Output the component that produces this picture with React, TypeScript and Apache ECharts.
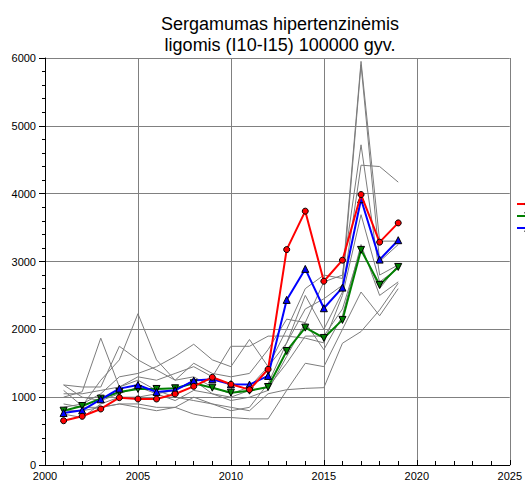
import React, { useEffect, useRef } from "react";
import * as echarts from "echarts";

const years = [2001, 2002, 2003, 2004, 2005, 2006, 2007, 2008, 2009, 2010, 2011, 2012, 2013, 2014, 2015, 2016, 2017, 2018, 2019];

const redValues = [653, 718, 826, 993, 973, 973, 1047, 1160, 1293, 1190, 1111, 1411, 3176, 3742, 2709, 3019, 3987, 3285, 3569];
const greenValues = [801, 870, 978, 1077, 1121, 1121, 1131, 1205, 1140, 1066, 1096, 1150, 1681, 2025, 1873, 2139, 3171, 2655, 2920];
const blueValues = [767, 806, 969, 1126, 1180, 1077, 1101, 1244, 1264, 1190, 1185, 1313, 2434, 2891, 2311, 2615, 3918, 3028, 3314];

const grayValues: number[][] = [
  [1100, 870, 1250, 1550, 2230, 1550, 1250, 1300, 1150, 1050, 1150, 1450, 2000, 2600, 2800, 2750, 5950, 3300, 3300],
  [1000, 1080, 1870, 1150, 1250, 1100, 1000, 950, 900, 800, 850, 1200, 1800, 2300, 2450, 2650, 5900, 3000, 3250],
  [1180, 1150, 1150, 1750, 1550, 1400, 1250, 1500, 1350, 1300, 1350, 1700, 2150, 2100, 2700, 2800, 4720, 2800, 2950],
  [850, 900, 1050, 1300, 1350, 1450, 1600, 1780, 1550, 1450, 1850, 1450, 1800, 2500, 2000, 2550, 4420, 4400, 4170],
  [1050, 1050, 1100, 1150, 1300, 1250, 1350, 1450, 1300, 1750, 1750, 1900, 1900, 1870, 1800, 2500, 3690, 2700, 2900],
  [750, 700, 900, 1000, 1000, 1050, 1100, 1250, 1050, 950, 1000, 1100, 1600, 2100, 1700, 2200, 3250, 2500, 2700],
  [900, 850, 850, 900, 900, 850, 850, 1000, 900, 850, 800, 1050, 1110, 1130, 1140, 1795, 1967, 2286, 2680],
  [800, 800, 850, 900, 850, 800, 850, 750, 700, 700, 680, 680, 1100, 1500, 1450, 2000, 2550, 2200, 2600],
  [1180, 1000, 950, 1050, 1150, 1050, 950, 1100, 1050, 1000, 1100, 1150, 1500, 1900, 1900, 2300, 3200, 2600, 2950],
];

const seriesNames = ["Savivaldybė", "Apskritis", "Lietuva"];
const titleText = "Sergamumas hipertenzinėmis\nligomis (I10-I15) 100000 gyv.";

const pairs = (vals: number[]) => years.map((y, i) => [y, vals[i]]);

export default function App() {
  const ref = useRef<HTMLDivElement>(null);
  useEffect(() => {
    if (!ref.current) return;
    const chart = echarts.init(ref.current, null, { renderer: "svg" });
    const font = "Liberation Sans, Arial, sans-serif";
    const grays = grayValues.map((vals, i) => ({
      name: "g" + i,
      type: "line",
      data: pairs(vals),
      symbol: "none",
      lineStyle: { color: "#7c7c7c", width: 1 },
      z: 1,
      silent: true,
    }));
    chart.setOption({
      animation: false,
      title: {
        text: titleText,
        left: 275,
        top: 8,
        textAlign: "center",
        textStyle: { fontFamily: font, fontSize: 18, fontWeight: "normal", color: "#000", lineHeight: 21 },
      },
      legend: {
        orient: "vertical",
        left: 516,
        top: 199,
        padding: 0,
        itemWidth: 23,
        itemHeight: 7,
        itemGap: 2,
        data: seriesNames,
        textStyle: { fontFamily: font, fontSize: 9, lineHeight: 10, color: "#000" },
      },
      grid: { left: 45, right: 10, top: 58, bottom: 18, containLabel: false },
      xAxis: {
        type: "value",
        min: 2000,
        max: 2025,
        interval: 5,
        axisLine: { show: true, onZero: false, lineStyle: { color: "#000", width: 1 } },
        axisTick: { show: true, inside: true, length: 5, lineStyle: { color: "#000" } },
        minorTick: { show: true, splitNumber: 5, length: 4, lineStyle: { color: "#000" } },
        axisLabel: { fontFamily: font, fontSize: 11, color: "#000", margin: 5, formatter: (v: number) => String(v) },
        splitLine: { show: true, lineStyle: { color: "#808080", width: 1 } },
      },
      yAxis: {
        type: "value",
        min: 0,
        max: 6000,
        interval: 1000,
        axisLine: { show: true, lineStyle: { color: "#000", width: 1 } },
        axisTick: { show: true, inside: false, length: 6, lineStyle: { color: "#000" } },
        minorTick: { show: true, splitNumber: 5, length: 3, lineStyle: { color: "#000" } },
        axisLabel: { fontFamily: font, fontSize: 11, color: "#000", margin: 9, formatter: (v: number) => String(v) },
        splitLine: { show: true, lineStyle: { color: "#808080", width: 1 } },
      },
      series: [
        ...grays,
        {
          name: seriesNames[0],
          type: "line",
          data: pairs(redValues),
          symbol: "circle",
          symbolSize: 6,
          lineStyle: { color: "#ff0000", width: 2 },
          itemStyle: { color: "#ff0000", borderColor: "#000", borderWidth: 1 },
          z: 4,
        },
        {
          name: seriesNames[1],
          type: "line",
          data: pairs(greenValues),
          symbol: "triangle",
          symbolRotate: 180,
          symbolSize: 7,
          lineStyle: { color: "#008000", width: 2 },
          itemStyle: { color: "#008000", borderColor: "#000", borderWidth: 1 },
          z: 3,
        },
        {
          name: seriesNames[2],
          type: "line",
          data: pairs(blueValues),
          symbol: "triangle",
          symbolSize: 7,
          lineStyle: { color: "#0000ff", width: 2 },
          itemStyle: { color: "#0000ff", borderColor: "#000", borderWidth: 1 },
          z: 3,
        },
      ],
    });
    return () => chart.dispose();
  }, []);
  return (
    <div
      ref={ref}
      style={{ position: "absolute", left: 0, top: 0, width: 525, height: 483, overflow: "hidden" }}
    />
  );
}
